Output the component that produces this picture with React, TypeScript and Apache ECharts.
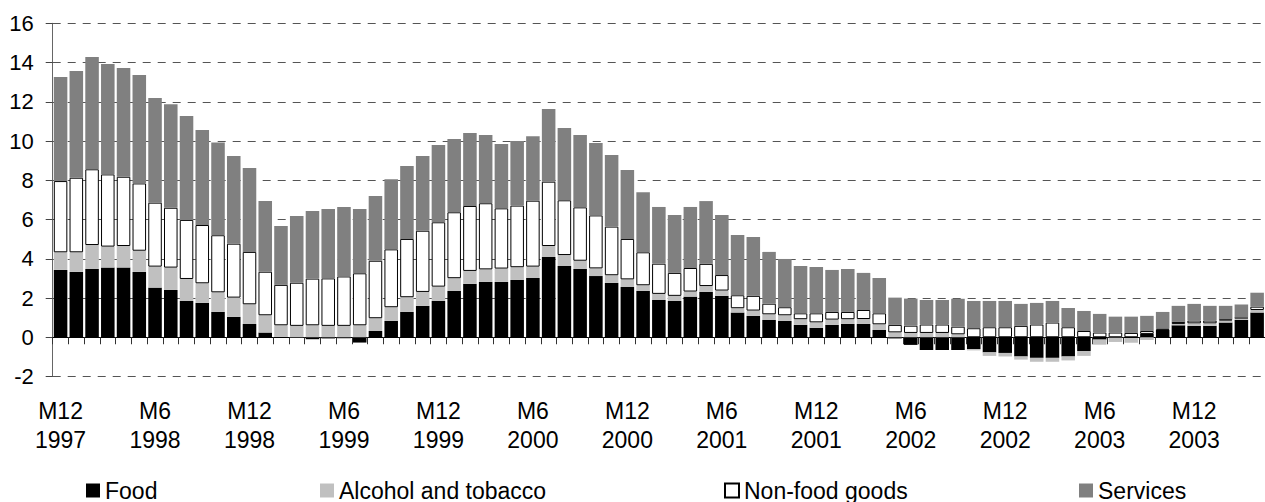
import React, { useEffect, useRef } from "react";
import * as echarts from "echarts";

// Monthly contributions (percentage points), M12 1997 .. M4 2004
const food = [3.43, 3.33, 3.48, 3.55, 3.55, 3.33, 2.53, 2.41, 1.85, 1.75, 1.29, 1.04, 0.68, 0.24, 0.02, -0.02, -0.1, -0.06, -0.05, -0.27, 0.32, 0.83, 1.29, 1.6, 1.85, 2.36, 2.72, 2.82, 2.82, 2.92, 3.02, 4.09, 3.63, 3.48, 3.12, 2.77, 2.56, 2.36, 1.9, 1.85, 2.07, 2.31, 2.11, 1.26, 1.09, 0.88, 0.83, 0.63, 0.48, 0.63, 0.68, 0.68, 0.37, -0.06, -0.39, -0.65, -0.65, -0.65, -0.6, -0.77, -0.8, -0.98, -1.05, -1.05, -0.98, -0.7, -0.12, -0.02, -0.04, 0.17, 0.39, 0.61, 0.58, 0.58, 0.75, 0.88, 1.26];
const alcohol = [0.9, 1.0, 1.22, 1.07, 1.1, 1.08, 1.07, 1.14, 1.12, 1.0, 1.0, 0.98, 1.0, 0.88, 0.59, 0.58, 0.61, 0.58, 0.58, 0.61, 0.65, 0.7, 0.75, 0.71, 0.73, 0.65, 0.66, 0.64, 0.68, 0.65, 0.58, 0.56, 0.56, 0.42, 0.39, 0.39, 0.39, 0.29, 0.31, 0.26, 0.26, 0.3, 0.27, 0.22, 0.27, 0.29, 0.29, 0.29, 0.28, 0.27, 0.24, 0.25, 0.29, 0.25, 0.22, 0.22, 0.22, 0.15, -0.07, -0.18, -0.18, -0.16, -0.2, -0.2, -0.2, -0.25, -0.26, -0.22, -0.24, -0.14, 0.0, 0.07, 0.13, 0.13, 0.1, 0.1, 0.13];
const nonFood = [3.63, 3.8, 3.86, 3.68, 3.53, 3.43, 3.26, 3.05, 3.01, 2.97, 2.91, 2.75, 2.67, 2.22, 2.06, 2.2, 2.38, 2.42, 2.52, 2.65, 2.93, 2.95, 2.97, 3.12, 3.28, 3.36, 3.31, 3.37, 3.07, 3.14, 3.36, 3.28, 2.79, 2.72, 2.7, 2.48, 2.06, 1.68, 1.54, 1.17, 1.2, 1.13, 0.79, 0.66, 0.75, 0.54, 0.41, 0.3, 0.46, 0.39, 0.37, 0.46, 0.56, 0.38, 0.37, 0.43, 0.43, 0.39, 0.46, 0.51, 0.51, 0.58, 0.65, 0.75, 0.51, 0.32, 0.24, 0.24, 0.22, 0.15, 0.05, 0.1, 0.14, 0.14, 0.07, 0.02, 0.17];
const services = [5.3, 5.44, 5.72, 5.62, 5.54, 5.52, 5.33, 5.28, 5.29, 4.84, 4.72, 4.47, 4.27, 3.6, 3.0, 3.4, 3.44, 3.54, 3.54, 3.28, 3.3, 3.57, 3.72, 3.81, 3.94, 3.73, 3.72, 3.48, 3.28, 3.29, 3.29, 3.7, 3.68, 3.69, 3.69, 3.65, 3.51, 3.06, 2.89, 2.95, 3.11, 3.2, 3.06, 3.07, 3.0, 2.64, 2.46, 2.41, 2.36, 2.14, 2.19, 1.89, 1.8, 1.39, 1.38, 1.25, 1.25, 1.42, 1.39, 1.34, 1.34, 1.12, 1.1, 1.1, 0.98, 1.02, 0.95, 0.81, 0.83, 0.77, 0.85, 0.82, 0.85, 0.75, 0.68, 0.67, 0.71];

const seriesNames = ["Food", "Alcohol and tobacco", "Non-food goods", "Services"];

// Category labels: months starting at M12 1997
const categories = food.map((_, i) => {
  const m = ((11 + i) % 12) + 1;
  const y = 1997 + Math.floor((11 + i) / 12);
  return `M${m}\n${y}`;
});

const yMin = -2;
const yMax = 16;
const yInterval = 2;

const FONT = "'Liberation Sans', Arial, sans-serif";

export default function App() {
  const ref = useRef<HTMLDivElement>(null);
  useEffect(() => {
    const chart = echarts.init(ref.current!, null, { renderer: "svg" });
    const legendLefts = [86, 320, 724, 1079];
    chart.setOption({
      animation: false,
      backgroundColor: "#fff",
      textStyle: { fontFamily: FONT },
      grid: { left: 52.7, right: -2.8, top: 23.3, bottom: 125.5, containLabel: false },
      legend: seriesNames.map((n, i) => ({
        data: [n],
        left: legendLefts[i],
        top: 479,
        padding: 0,
        itemWidth: 14,
        itemHeight: 14,
        icon: "rect",
        textStyle: { fontSize: 23, color: "#000", fontFamily: FONT },
      })),
      xAxis: [
        {
          type: "category",
          data: categories,
          position: "bottom",
          axisLine: { show: false, onZero: false },
          axisTick: { show: false },
          axisLabel: {
            interval: 5,
            fontSize: 23,
            lineHeight: 29,
            margin: 20,
            color: "#000",
            fontFamily: FONT,
          },
          splitLine: { show: false },
        },
        {
          type: "category",
          data: categories,
          position: "bottom",
          axisLine: { show: true, onZero: true, onZeroAxisIndex: 0, lineStyle: { color: "#000", width: 1 } },
          axisTick: { show: true, interval: 0, length: 7, lineStyle: { color: "#333" } },
          axisLabel: { show: false },
          splitLine: { show: false },
        },
      ],
      yAxis: {
        type: "value",
        min: yMin,
        max: yMax,
        interval: yInterval,
        axisLine: { show: true, lineStyle: { color: "#666", width: 1 } },
        axisTick: { show: true, length: 7, lineStyle: { color: "#444" } },
        axisLabel: { fontSize: 22, color: "#000", margin: 19, fontFamily: FONT },
        splitLine: { show: true, lineStyle: { color: "#555", type: [8, 7], width: 1 } },
      },
      series: [
        { name: seriesNames[0], type: "bar", stack: "total", data: food, barCategoryGap: "14%", itemStyle: { color: "#000000" } },
        { name: seriesNames[1], type: "bar", stack: "total", data: alcohol, barCategoryGap: "14%", itemStyle: { color: "#c0c0c0" } },
        { name: seriesNames[2], type: "bar", stack: "total", data: nonFood, barCategoryGap: "14%", itemStyle: { color: "#ffffff", borderColor: "#000", borderWidth: 1 } },
        { name: seriesNames[3], type: "bar", stack: "total", data: services, barCategoryGap: "14%", itemStyle: { color: "#808080" } },
      ],
    });
    return () => chart.dispose();
  }, []);
  return (
    <div
      ref={ref}
      style={{ position: "fixed", left: 0, top: 0, width: 1265, height: 502, background: "#fff" }}
    />
  );
}
